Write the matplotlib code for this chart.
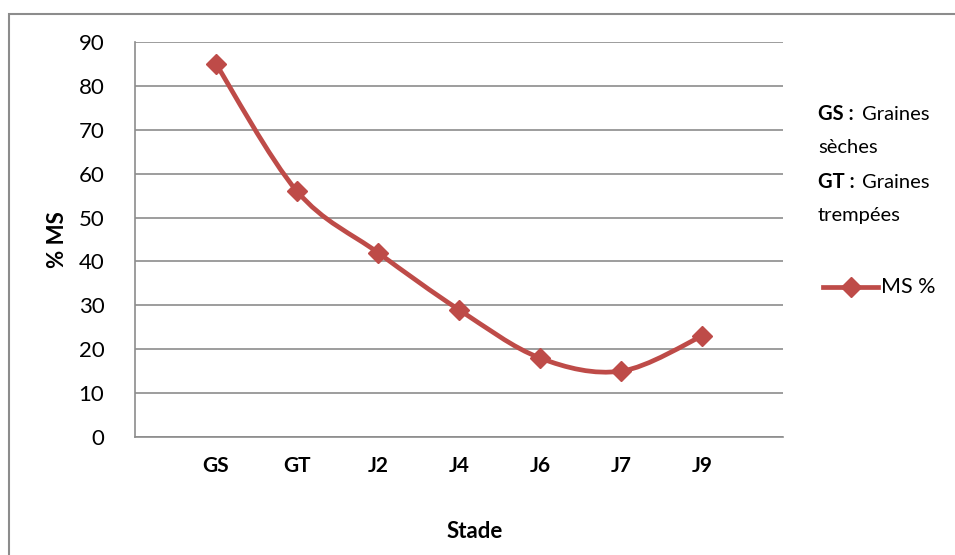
import matplotlib
matplotlib.use("Agg")
import matplotlib.pyplot as plt
from matplotlib.path import Path
from matplotlib.patches import PathPatch, Rectangle
from matplotlib.lines import Line2D

plt.rcParams['font.family'] = ['Lato', 'DejaVu Sans']

stades = ["GS", "GT", "J2", "J4", "J6", "J7", "J9"]
ms_pct = [85, 56, 42, 29, 18, 15, 23]
y_ticks = [0, 10, 20, 30, 40, 50, 60, 70, 80, 90]

color = "#BE4B48"
grid_c = "#8C8C8C"

fig = plt.figure(figsize=(9.55, 5.55), dpi=100)
ax = fig.add_axes([135/955, 1-437/555, (783-135)/955, (437-42)/555])

xs = list(range(1, len(stades) + 1))

# Excel-like smoothed line (Bezier through points)
verts = [(xs[0], ms_pct[0])]
codes = [Path.MOVETO]
n = len(xs)
for i in range(n - 1):
    p0 = (xs[max(i-1, 0)], ms_pct[max(i-1, 0)])
    p1 = (xs[i], ms_pct[i])
    p2 = (xs[i+1], ms_pct[i+1])
    p3 = (xs[min(i+2, n-1)], ms_pct[min(i+2, n-1)])
    c1 = (p1[0] + (p2[0]-p0[0])/6, p1[1] + (p2[1]-p0[1])/6)
    c2 = (p2[0] - (p3[0]-p1[0])/6, p2[1] - (p3[1]-p1[1])/6)
    verts += [c1, c2, p2]
    codes += [Path.CURVE4]*3
patch = PathPatch(Path(verts, codes), facecolor='none', edgecolor=color, lw=3.4,
                  capstyle='round', joinstyle='round', zorder=3)
ax.add_patch(patch)
ax.plot(xs, ms_pct, linestyle='none', marker='D', markersize=10, color=color,
        zorder=4, clip_on=False)

ax.set_xlim(0, 8)
ax.set_ylim(0, 90)
ax.set_yticks(y_ticks)
ax.set_yticklabels([str(v) for v in y_ticks], fontsize=16)
ax.set_xticks(xs)
ax.set_xticklabels(stades, fontsize=15, fontweight='bold')
ax.tick_params(axis='x', length=0, pad=14)
ax.tick_params(axis='y', length=0, pad=22)
ax.yaxis.grid(True, color=grid_c, lw=1.2)
ax.set_axisbelow(True)
for s in ['top', 'right']:
    ax.spines[s].set_visible(False)
for s in ['left', 'bottom']:
    ax.spines[s].set_color(grid_c)
    ax.spines[s].set_linewidth(1.2)

ax.set_ylabel("% MS", fontsize=16, fontweight='bold')
ax.yaxis.set_label_coords((68-135)/648, 0.5)
fig.text(475/955, 1-531/555, "Stade", fontsize=16, fontweight='bold',
         ha='center', va='center')

# outer chart border (cropped at right & bottom)
fig.patches.append(Rectangle((8.5/955, -0.1), 1.2, 1 - 14/555 + 0.1,
                             transform=fig.transFigure, fill=False,
                             edgecolor='#8C8C8C', lw=1.5))

# notes
fs = 14.5
fig.text(818/955, 1-114/555, "GS :", fontsize=fs, fontweight='bold', va='center')
fig.text(862/955, 1-114/555, "Graines", fontsize=fs, va='center')
fig.text(818/955, 1-148/555, "sèches", fontsize=fs, va='center')
fig.text(818/955, 1-182/555, "GT :", fontsize=fs, fontweight='bold', va='center')
fig.text(862/955, 1-182/555, "Graines", fontsize=fs, va='center')
fig.text(818/955, 1-216/555, "trempées", fontsize=fs, va='center')

# legend
lx0, lx1, ly = 823/955, 878/955, 1-287/555
fig.add_artist(Line2D([lx0, lx1], [ly, ly], transform=fig.transFigure,
                      color=color, lw=3.4, marker='None'))
fig.add_artist(Line2D([(lx0+lx1)/2], [ly], transform=fig.transFigure,
                      color=color, marker='D', markersize=10, linestyle='none'))
fig.text(881/955, ly, "MS %", fontsize=15.5, va='center')

fig.savefig("out.png", dpi=100, facecolor='white')
